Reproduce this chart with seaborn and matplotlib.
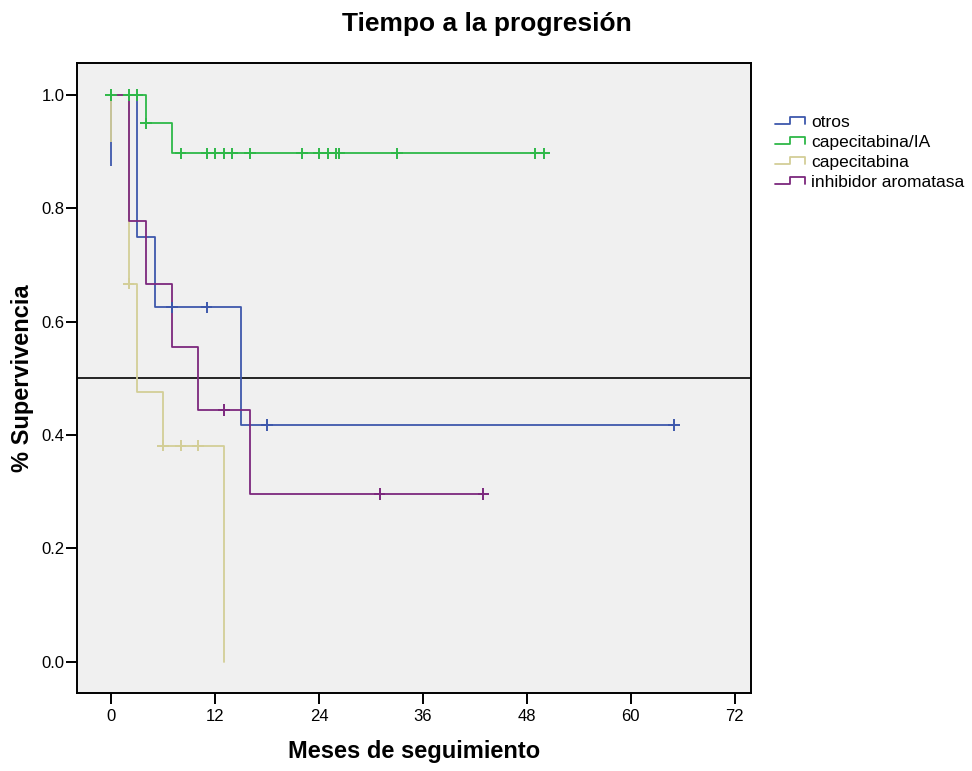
import numpy as np
import pandas as pd
import matplotlib
matplotlib.use('Agg')
import matplotlib.pyplot as plt
from matplotlib.legend_handler import HandlerBase
from matplotlib.lines import Line2D
import seaborn as sns

grupos = ['otros', 'capecitabina/IA', 'capecitabina', 'inhibidor aromatasa']
colores = ['#3E58AC', '#2EB848', '#D3CE97', '#7C287D']

# escalones: tiempo (meses) y supervivencia a partir de ese tiempo
t_otros = [0, 3, 5, 15, 65]
s_otros = [1.0, 0.75, 0.625, 0.417, 0.417]
t_capia = [0, 4, 7, 50]
s_capia = [1.0, 0.95, 0.897, 0.897]
t_cap = [0, 2, 3, 6, 13]
s_cap = [1.0, 0.667, 0.476, 0.381, 0.0]
t_ia = [0, 2, 4, 7, 10, 16, 43]
s_ia = [1.0, 0.778, 0.667, 0.556, 0.444, 0.296, 0.296]

# tiempos censurados
c_otros = [7, 11, 18, 65]
c_capia = [0, 2, 3, 4, 8, 11, 12, 13, 14, 16, 22, 24, 25, 26, 26.3, 33, 49, 50]
c_cap = [2, 6, 8, 10]
c_ia = [13, 31, 43]

# trazo vertical en t=0
inicio_grupos = ['otros', 'capecitabina']
inicio_min = [0.875, 0.917]

tiempos = [t_otros, t_capia, t_cap, t_ia]
superv = [s_otros, s_capia, s_cap, s_ia]
censuras = [c_otros, c_capia, c_cap, c_ia]

filas = []
filas_c = []
for g, t, s, c in zip(grupos, tiempos, superv, censuras):
    for ti, si in zip(t, s):
        filas.append({'grupo': g, 't': ti, 's': si})
    t_arr = np.array(t)
    for ci in c:
        idx = np.searchsorted(t_arr, ci, side='right') - 1
        filas_c.append({'grupo': g, 't': ci, 's': s[idx]})
curvas = pd.DataFrame(filas)
cens = pd.DataFrame(filas_c)

sns.set_style('ticks')
plt.rcParams['font.family'] = ['Liberation Sans', 'DejaVu Sans']
plt.rcParams['text.color'] = 'black'
plt.rcParams['axes.labelcolor'] = 'black'

fig = plt.figure(figsize=(9.72, 7.71), dpi=100)
ax = fig.add_axes([0.0795, 0.1016, 0.6931, 0.8163])
ax.set_facecolor('#F0F0F0')

ax.axhline(0.5, color='black', lw=1.2, zorder=1)

pal = dict(zip(grupos, colores))
for g, ymin in zip(inicio_grupos, inicio_min):
    ax.vlines(0, ymin, 1.0, color=pal[g], lw=1.3, zorder=2)

sns.lineplot(data=curvas, x='t', y='s', hue='grupo', hue_order=grupos, palette=pal,
             estimator=None, sort=False, drawstyle='steps-post', lw=1.3,
             legend=False, ax=ax, zorder=2)
sns.scatterplot(data=cens, x='t', y='s', hue='grupo', hue_order=grupos, palette=pal,
                marker='+', s=70, linewidth=1.4, legend=False, ax=ax, zorder=3)

ax.set_xlim(-3.93, 73.9)
ax.set_ylim(-0.055, 1.056)
ax.set_xticks(np.arange(0, 73, 12))
ax.set_yticks(np.arange(0, 1.01, 0.2))
ax.set_yticklabels([f'{v:.1f}' for v in np.arange(0, 1.01, 0.2)])
ax.tick_params(axis='both', length=8, width=1.4, color='black', labelsize=12, labelcolor='black')
ax.tick_params(axis='x', pad=3.5)
ax.tick_params(axis='y', pad=1)
for sp in ax.spines.values():
    sp.set_color('black')
    sp.set_linewidth(1.4)

ax.set_xlabel('Meses de seguimiento', fontsize=17, fontweight='bold', va='center', color='black')
ax.set_ylabel('% Supervivencia', fontsize=17, fontweight='bold', va='center', color='black')
ax.xaxis.set_label_coords(0.5, -0.0942)
ax.yaxis.set_label_coords(-0.082, 0.5)

fig.suptitle('Tiempo a la progresión', x=0.501, y=1 - 24 / 771, va='center',
             fontsize=19, fontweight='bold', color='black')


class HandlerEscalon(HandlerBase):
    def create_artists(self, legend, orig_handle, xdescent, ydescent, width, height, fontsize, trans):
        x0, y0 = -xdescent, -ydescent
        bajo = y0 + height * 0.3
        alto = y0 + height * 0.85
        xs = [x0, x0 + width * 0.5, x0 + width * 0.5, x0 + width, x0 + width]
        ys = [bajo, bajo, alto, alto, bajo]
        ln = Line2D(xs, ys, color=orig_handle.get_color(), lw=1.3, transform=trans)
        return [ln]


handles = [Line2D([], [], color=c) for c in colores]
leg = fig.legend(handles, grupos, loc='upper left', bbox_to_anchor=(775 / 972, 1 - 115 / 771),
                 frameon=False, fontsize=12.5, borderpad=0, borderaxespad=0,
                 handlelength=1.75, handletextpad=0.35, labelspacing=0.28,
                 handler_map={Line2D: HandlerEscalon()})
for txt in leg.get_texts():
    txt.set_color('black')

fig.savefig('out.png', dpi=100)
